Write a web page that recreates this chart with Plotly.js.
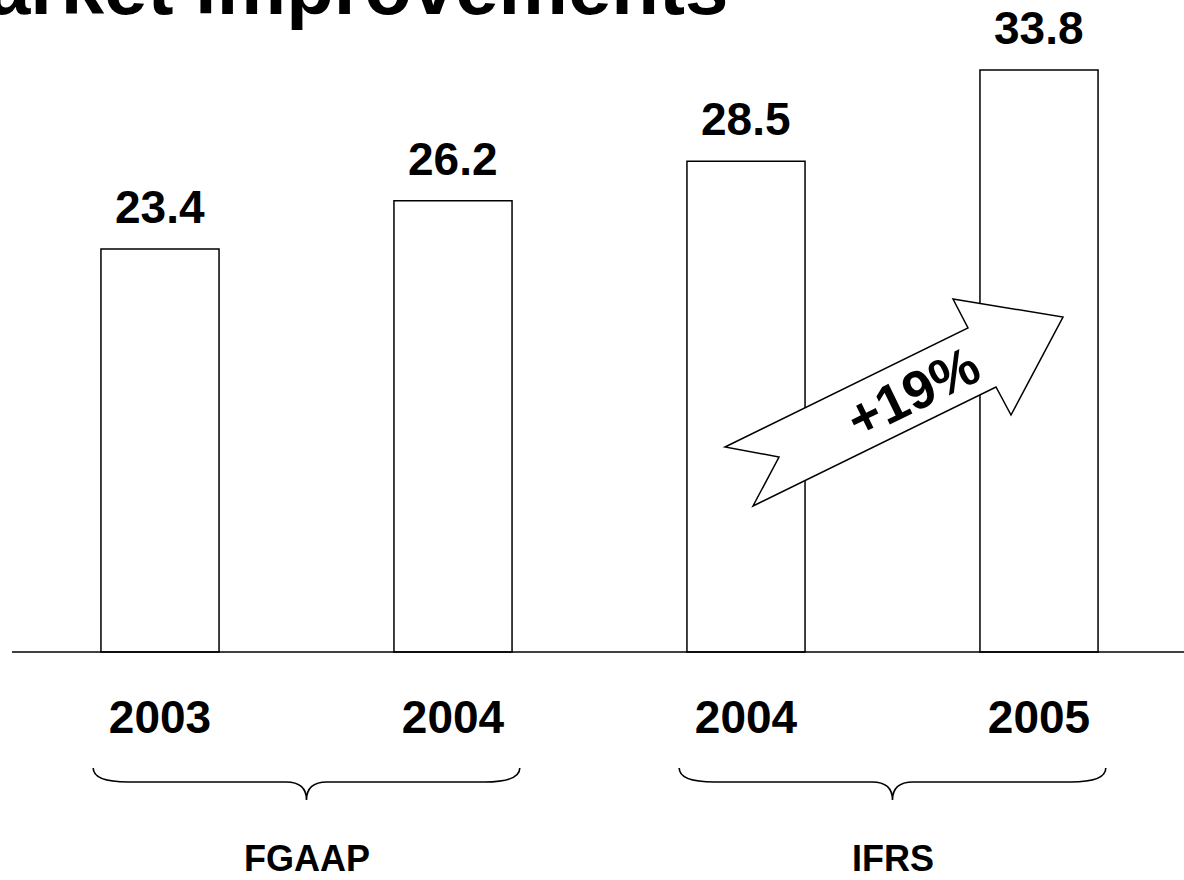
<!DOCTYPE html>
<html>
<head>
<meta charset="utf-8">
<script src="https://cdn.plot.ly/plotly-3.0.1.min.js"></script>
<style>html,body{margin:0;padding:0;background:#fff;}#chart{width:1184px;height:880px;}</style>
</head>
<body>
<div id="chart"></div>
<script>
// ---- data ----
const categories = ['2003', '2004', '2004', '2005'];
const values = [23.4, 26.2, 28.5, 33.8];
const groupNames = ['FGAAP', 'IFRS'];
const groupFirst = [0, 2];
const groupLast = [1, 3];
const growthLabel = '+19%';
const titleText = 'Market improvements';

// ---- layout helpers (pixel -> data, decorations only) ----
const X0 = 160, DX = 293;          // px of category 0, px per category
const Y0 = 652, DY = 17.22;        // px of zero, px per unit
const px2x = p => (p - X0) / DX;
const py2y = p => (Y0 - p) / DY;
const FONT = 'Liberation Sans, Arial, sans-serif';

const idx = categories.map((c, i) => i);

const bars = {
  type: 'bar',
  x: idx,
  y: values,
  width: 0.403,
  marker: {color: '#ffffff', line: {color: '#000000', width: 1.5}},
  hoverinfo: 'skip'
};

const annotations = [];
values.forEach((v, i) => {
  annotations.push({
    x: i, y: v, xref: 'x', yref: 'y', text: v.toFixed(1),
    showarrow: false, yanchor: 'bottom', yshift: 14,
    font: {family: FONT, size: 46, color: '#000', weight: 'bold'}
  });
});

const shapes = [];
// baseline
shapes.push({type: 'line', xref: 'paper', yref: 'y', x0: 12 / 1184, x1: 1, y0: 0, y1: 0,
  line: {color: '#000', width: 1.5}});

// braces + group labels
groupNames.forEach((g, k) => {
  const a = groupFirst[k] - 0.228, b = groupLast[k] + 0.228, m = (groupFirst[k] + groupLast[k]) / 2;
  const yTop = py2y(768), yMid = py2y(782), yTip = py2y(800);
  const r = 0.12, t = 0.07;
  const path = `M ${a} ${yTop} Q ${a} ${yMid} ${a + r} ${yMid} L ${m - t} ${yMid} Q ${m} ${yMid} ${m} ${yTip} ` +
               `Q ${m} ${yMid} ${m + t} ${yMid} L ${b - r} ${yMid} Q ${b} ${yMid} ${b} ${yTop}`;
  shapes.push({type: 'path', xref: 'x', yref: 'y', path: path, line: {color: '#000', width: 1.6}});
  annotations.push({
    x: m, y: 0, xref: 'x', yref: 'paper', text: g, showarrow: false,
    xanchor: 'center', yanchor: 'bottom', borderpad: 0,
    font: {family: FONT, size: 36, color: '#000', weight: 'bold'}
  });
});

// growth arrow
const arrowPx = [[725, 447], [968, 328], [953, 299], [1063, 317], [1011, 415], [996, 387], [753, 506], [779, 457]];
const arrowPath = arrowPx.map((p, i) => (i ? 'L ' : 'M ') + px2x(p[0]) + ' ' + py2y(p[1])).join(' ') + ' Z';
shapes.push({type: 'path', xref: 'x', yref: 'y', path: arrowPath,
  fillcolor: '#ffffff', line: {color: '#000', width: 1.5}, layer: 'above'});
annotations.push({
  x: px2x(913), y: py2y(392), xref: 'x', yref: 'y', text: growthLabel, showarrow: false,
  textangle: -26, font: {family: FONT, size: 54, color: '#000', weight: 'bold'}
});

// title (cut off at the top edge, as in the reference)
annotations.push({
  x: 730 / 1184, y: 1 - 33 / 880, xref: 'paper', yref: 'paper', text: titleText, showarrow: false,
  xanchor: 'right', yanchor: 'bottom',
  font: {family: FONT, size: 78, color: '#000', weight: 'bold'}
});

const layout = {
  width: 1184, height: 880,
  margin: {l: 0, r: 0, t: 0, b: 0, pad: 0},
  paper_bgcolor: '#ffffff', plot_bgcolor: '#ffffff',
  showlegend: false,
  xaxis: {
    range: [px2x(0), px2x(1184)],
    tickvals: idx, ticktext: categories,
    anchor: 'free', position: (880 - Y0) / 880,
    showline: false, showgrid: false, zeroline: false, ticks: '',
    ticklabelstandoff: 34,
    tickfont: {family: FONT, size: 46, color: '#000', weight: 'bold'},
    fixedrange: true
  },
  yaxis: {
    range: [py2y(880), py2y(0)],
    visible: false, showgrid: false, zeroline: false, fixedrange: true
  },
  shapes: shapes,
  annotations: annotations
};

Plotly.newPlot('chart', [bars], layout, {displayModeBar: false, staticPlot: true});
</script>
</body>
</html>
